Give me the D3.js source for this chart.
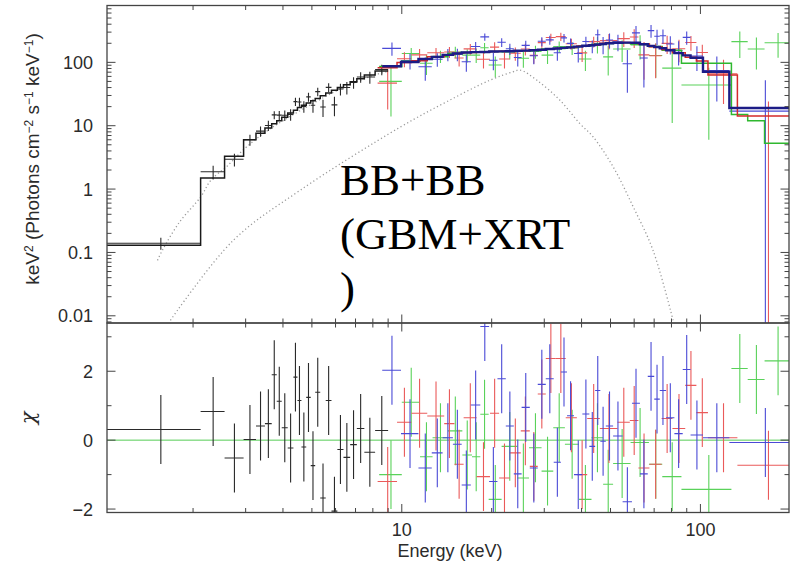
<!DOCTYPE html>
<html><head><meta charset="utf-8">
<script src="https://cdn.jsdelivr.net/npm/d3@7"></script>
<style>body{margin:0;background:#fff;} svg{display:block;}</style>
</head><body>
<svg id="chart" width="795" height="566"></svg>
<script>
// ---------------- DATA ----------------
// Swift/XRT (black)
const xrtEdges = [1.0, 2.12, 2.55, 2.953, 3.249, 3.481, 3.668, 3.813, 3.963, 4.150, 4.336, 4.473, 4.613, 4.786, 4.955, 5.129, 5.332, 5.563, 5.815, 6.085, 6.378, 6.716, 7.071, 7.492, 8.141, 9.0];
const xrtData  = [0.14, 1.88, 2.95, 6.02, 8.22, 10.1, 14.8, 14.7, 14.6, 15.1, 24.0, 23.7, 20.2, 28.5, 21.0, 34.5, 19.7, 40.3, 21.3, 38.0, 40.0, 48.2, 58.7, 58.6, 77.1];
const xrtErr   = [0.03, 0.46, 0.67, 1.2, 1.52, 1.84, 2.14, 2.4, 2.72, 3.16, 3.52, 3.86, 4.2, 4.56, 4.94, 5.4, 5.92, 6.56, 7.26, 8.04, 8.9, 9.9, 11.0, 12.6, 14.6];
const xrtModel = [0.13, 1.50, 3.3, 6.0, 7.6, 9.2, 10.7, 12.0, 13.6, 15.8, 17.6, 19.3, 21.0, 22.8, 24.7, 27.0, 29.6, 32.8, 36.3, 40.2, 44.5, 49.5, 55.0, 63.0, 73.0];
const xrtChi   = [0.31, 0.83, -0.52, 0.02, 0.41, 0.48, 1.9, 1.13, 0.36, -0.23, 1.83, 1.15, -0.2, 1.24, -0.74, 1.39, -1.68, 1.15, -2.06, -0.27, -0.5, -0.13, 0.34, -0.35, 0.28];

// GBM detector (green)
const grnEdges = [8.4, 10.0, 11.51, 12.68, 14.27, 15.95, 17.18, 18.32, 19.54, 21.59, 24.39, 26.68, 29.38, 32.15, 35.17, 39.22, 43.18, 47.23, 51.01, 58.37, 67.24, 74.52, 86.4, 127, 144, 164, 200];
const grnData  = [50, 138, 97, 125, 146, 130, 130, 170, 91, 144, 116, 148, 130, 178, 169, 113, 195, 122, 162, 189, 128, 81, 44, 212, 162, 204];
const grnErr   = [36, 31, 34, 27, 30, 31, 32, 32, 33, 33, 34, 34, 36, 36, 38, 40, 57, 60, 61, 78, 71, 70, 38, 95, 85, 86];
const grnModel = [86, 104, 113, 123, 138, 143, 145, 146, 148, 150, 153, 155, 162, 165, 174, 182, 191, 199, 204, 194, 178, 155, 97, 15, 12, 5.3];
const grnChi   = [-1.0, 1.1, -0.48, 0.07, 0.27, -0.43, -0.48, 0.75, -1.72, -0.18, -1.1, -0.22, -0.9, 0.36, -0.12, -1.72, 0.07, -1.28, -0.68, -0.07, -0.7, -1.06, -1.43, 2.08, 1.76, 2.3];

// GBM detector (red)
const redEdges = [8.3, 9.64, 10.77, 12.17, 13.87, 15.01, 16.11, 17.81, 19.74, 21.18, 22.97, 25.03, 26.83, 28.53, 30.35, 32.78, 35.40, 38.57, 41.77, 46.05, 52.76, 58.02, 62.01, 67.49, 74.14, 80.60, 88.96, 96.95, 106, 133, 205];
const redData  = [47, 114, 131, 142, 146, 117, 163, 112, 174, 113, 139, 162, 129, 205, 247, 255, 197, 141, 212, 220, 237, 251, 131, 127, 199, 164, 206, 143, 66, -12];
const redErr   = [29, 30, 32, 27, 29, 31, 31, 32, 33, 33, 33, 34, 34, 35, 36, 37, 38, 40, 41, 60, 62, 82, 78, 71, 64, 64, 54, 47, 44, 36];
const redModel = [82, 99, 106, 123, 132, 139, 143, 146, 148, 149, 151, 153, 155, 158, 162, 167, 172, 181, 186, 200, 205, 204, 194, 177, 159, 142, 120, 105, 63, 14.2];
const redChi   = [-1.2, 0.52, 0.78, 0.7, 0.48, -0.7, 0.65, -1.06, 0.78, -1.1, -0.37, 0.27, -0.76, 1.34, 2.37, 2.37, 0.65, -1.0, 0.63, 0.34, 0.52, 0.57, -0.81, -0.7, 0.63, 0.34, 1.59, 0.8, 0.07, -0.73];

// GBM detector (blue)
const bluEdges = [8.6, 9.94, 11.37, 12.60, 13.70, 14.83, 15.87, 17.03, 18.32, 19.61, 20.91, 22.30, 23.72, 25.19, 26.83, 28.53, 30.35, 32.27, 34.10, 35.76, 37.74, 40.24, 42.47, 44.41, 46.22, 48.22, 51.01, 54.89, 58.99, 62.73, 66.63, 70.05, 73.09, 76.75, 81.82, 87.25, 92.69, 102, 125, 205];
const bluData  = [166, 107, 85, 112, 133, 134, 102, 178, 252, 108, 208, 164, 119, 185, 127, 215, 226, 142, 243, 199, 138, 213, 180, 273, 193, 225, 211, 95, 292, 117, 317, 258, 263, 195, 152, 248, 126, 74, 17];
const bluErr   = [39, 30, 34, 27, 29, 30, 31, 32, 32, 33, 33, 33, 33, 34, 34, 35, 36, 36, 37, 38, 39, 40, 41, 57, 59, 60, 61, 62, 82, 77, 73, 70, 67, 62, 63, 58, 53, 50, 35];
const bluModel = [87, 101, 113, 122, 131, 138, 143, 145, 146, 148, 149, 150, 152, 153, 155, 158, 162, 165, 169, 172, 177, 183, 187, 191, 195, 200, 204, 205, 204, 193, 182, 175, 167, 155, 140, 129, 118, 71, 19];
const bluChi   = [2.03, 0.19, -0.81, -0.37, 0.07, -0.12, -1.3, 1.02, 3.3, -1.2, 1.78, 0.41, -0.98, 0.95, -0.81, 1.62, 1.78, -0.64, 1.98, 0.71, -1.0, 0.76, -0.18, 1.44, -0.03, 0.41, 0.12, -1.79, 1.07, -0.98, 1.85, 1.19, 1.44, 0.65, 0.19, 2.05, 0.15, 0.07, -0.07];

// Model components (dotted)
const comp1E = [1.52, 1.58, 1.8, 2.12, 2.3, 2.6, 3.0, 3.5, 4.0, 5.0, 6.0, 7.0, 8.0, 9.0];
const comp1F = [0.075, 0.109, 0.3, 0.75, 1.4, 2.3, 4.5, 8, 12, 22, 35, 48, 62, 72];
const comp2E = [1.68, 2.73, 4.57, 9.87, 14.14, 19.76, 23.6, 24.9, 28.3, 33.8, 39.4, 43.7, 51.0, 59.5, 69.3, 81.0];
const comp2F = [0.0085, 0.156, 0.96, 9.47, 23.9, 52.5, 71.0, 75.6, 52.5, 25.4, 10.9, 6.7, 2.25, 0.53, 0.11, 0.0085];

// Axis ticks / labels
const yTopTicks = [0.01, 0.1, 1, 10, 100];
const yTopLabels = ["0.01", "0.1", "1", "10", "100"];
const yResTicks = [-2, 0, 2];
const yResLabels = ["\u22122", "0", "2"];
const xTicks = [10, 100];
const xLabels = ["10", "100"];
const annotation = ["BB+BB", "(GBM+XRT", ")"];

// ---------------- LAYOUT ----------------
const svg = d3.select("#chart");
const L = 107, R = 789, T = 5.5, MID = 323, B = 512.5;
const x = d3.scaleLog().domain([1.03, 198]).range([L, R]);
const yTop = d3.scaleLog().domain([0.0077, 789]).range([MID, T]);
const yRes = d3.scaleLinear().domain([-2.1, 3.4]).range([B, MID]);
const yT = v => v > 0 ? yTop(v) : MID + 60;

const defs = svg.append("defs");
defs.append("clipPath").attr("id", "clipTop").append("rect")
  .attr("x", L).attr("y", T).attr("width", R - L).attr("height", MID - T);
defs.append("clipPath").attr("id", "clipRes").append("rect")
  .attr("x", L).attr("y", MID).attr("width", R - L).attr("height", B - MID);

const sets = [
  {edges: xrtEdges, data: xrtData, err: xrtErr, model: xrtModel, chi: xrtChi, color: "#2a2a2a", mcolor: "#1a1a1a"},
  {edges: grnEdges, data: grnData, err: grnErr, model: grnModel, chi: grnChi, color: "#5ad25a", mcolor: "#2fb82f"},
  {edges: redEdges, data: redData, err: redErr, model: redModel, chi: redChi, color: "#ea5a5a", mcolor: "#d42a2a"},
  {edges: bluEdges, data: bluData, err: bluErr, model: bluModel, chi: bluChi, color: "#4a4ad6", mcolor: "#1c1c86"}
];

const gTop = svg.append("g").attr("clip-path", "url(#clipTop)");
const gRes = svg.append("g").attr("clip-path", "url(#clipRes)");

// zero line in residuals
gRes.append("line").attr("x1", L).attr("x2", R)
  .attr("y1", yRes(0)).attr("y2", yRes(0))
  .attr("stroke", "#55cc55").attr("stroke-width", 1);

// dotted components
const compLine = d3.line().x(d => x(d[0])).y(d => yT(d[1])).curve(d3.curveCatmullRom);
[[comp1E, comp1F], [comp2E, comp2F]].forEach(([E, F]) => {
  gTop.append("path").attr("d", compLine(E.map((e, i) => [e, F[i]])))
    .attr("fill", "none").attr("stroke", "#9a9a9a").attr("stroke-width", 1.3)
    .attr("stroke-dasharray", "1.2,2.6");
});

// data crosses (top) and residual crosses (bottom)
sets.forEach(s => {
  const gd = gTop.append("g").attr("stroke", s.color).attr("stroke-width", 1.1);
  const gr = gRes.append("g").attr("stroke", s.color).attr("stroke-width", 1.1);
  s.data.forEach((v, i) => {
    const lo = s.edges[i], hi = s.edges[i + 1], c = (lo + hi) / 2;
    gd.append("line").attr("x1", x(lo)).attr("x2", x(hi)).attr("y1", yT(v)).attr("y2", yT(v));
    gd.append("line").attr("x1", x(c)).attr("x2", x(c)).attr("y1", yT(v - s.err[i])).attr("y2", yT(v + s.err[i]));
    const ch = s.chi[i];
    gr.append("line").attr("x1", x(lo)).attr("x2", x(hi)).attr("y1", yRes(ch)).attr("y2", yRes(ch));
    gr.append("line").attr("x1", x(c)).attr("x2", x(c)).attr("y1", yRes(ch - 1)).attr("y2", yRes(ch + 1));
  });
});

// model step lines
const stepLine = d3.line().x(d => x(d[0])).y(d => yT(d[1])).curve(d3.curveStepAfter);
sets.forEach((s, k) => {
  const pts = s.model.map((m, i) => [s.edges[i], m]);
  pts.push([s.edges[s.edges.length - 1], s.model[s.model.length - 1]]);
  gTop.append("path").attr("d", stepLine(pts)).attr("fill", "none")
    .attr("stroke", s.mcolor).attr("stroke-width", k === 3 ? 2.4 : 1.5);
});

// ---------------- FRAMES & TICKS ----------------
const frame = svg.append("g").attr("stroke", "#444").attr("fill", "none");
frame.append("rect").attr("x", L).attr("y", T).attr("width", R - L).attr("height", MID - T).attr("stroke-width", 1.3);
frame.append("rect").attr("x", L).attr("y", MID).attr("width", R - L).attr("height", B - MID).attr("stroke-width", 1.3);

const ticks = svg.append("g").attr("stroke", "#444").attr("stroke-width", 1);
const MAJ = 8.5, MIN = 4.5;
const [x0, x1] = x.domain();
const xMinor = [];
[1, 10, 100].forEach(d => { for (let k = 2; k <= 9; k++) { const v = k * d; if (v > x0 && v < x1) xMinor.push(v); } });
function xTickSet(yBase, dir) {
  xMinor.forEach(v => ticks.append("line").attr("x1", x(v)).attr("x2", x(v)).attr("y1", yBase).attr("y2", yBase + dir * MIN));
  xTicks.forEach(v => ticks.append("line").attr("x1", x(v)).attr("x2", x(v)).attr("y1", yBase).attr("y2", yBase + dir * MAJ));
}
xTickSet(T, 1); xTickSet(MID, -1); xTickSet(MID, 1); xTickSet(B, -1);

const [y0, y1] = yTop.domain();
const yMinor = [];
[0.001, 0.01, 0.1, 1, 10, 100].forEach(d => { for (let k = 2; k <= 9; k++) { const v = k * d; if (v > y0 && v < y1) yMinor.push(v); } });
[[L, 1], [R, -1]].forEach(([xb, dir]) => {
  yMinor.forEach(v => ticks.append("line").attr("x1", xb).attr("x2", xb + dir * MIN).attr("y1", yTop(v)).attr("y2", yTop(v)));
  yTopTicks.forEach(v => ticks.append("line").attr("x1", xb).attr("x2", xb + dir * MAJ).attr("y1", yTop(v)).attr("y2", yTop(v)));
  [-1, 1, 3].forEach(v => ticks.append("line").attr("x1", xb).attr("x2", xb + dir * MIN).attr("y1", yRes(v)).attr("y2", yRes(v)));
  yResTicks.forEach(v => ticks.append("line").attr("x1", xb).attr("x2", xb + dir * MAJ).attr("y1", yRes(v)).attr("y2", yRes(v)));
});

// ---------------- TEXT ----------------
const font = "'Liberation Sans', Arial, Helvetica, sans-serif";
const txt = svg.append("g").attr("font-family", font).attr("font-size", 18).attr("fill", "#2b2b2b");
yTopTicks.forEach((v, i) => txt.append("text").attr("x", 93).attr("y", yTop(v)).attr("dy", "0.36em")
  .attr("text-anchor", "end").text(yTopLabels[i]));
yResTicks.forEach((v, i) => txt.append("text").attr("x", 93).attr("y", yRes(v)).attr("dy", "0.36em")
  .attr("text-anchor", "end").text(yResLabels[i]));
xTicks.forEach((v, i) => txt.append("text").attr("x", x(v)).attr("y", 536)
  .attr("text-anchor", "middle").text(xLabels[i]));
txt.append("text").attr("x", 450).attr("y", 557).attr("text-anchor", "middle").text("Energy (keV)");

const yl = txt.append("text").attr("transform", "translate(39,159) rotate(-90)")
  .attr("text-anchor", "middle").attr("font-size", 19);
yl.append("tspan").text("keV");
yl.append("tspan").attr("dy", -6).attr("font-size", 12).text("2");
yl.append("tspan").attr("dy", 6).text(" (Photons cm");
yl.append("tspan").attr("dy", -6).attr("font-size", 12).text("\u22122");
yl.append("tspan").attr("dy", 6).text(" s");
yl.append("tspan").attr("dy", -6).attr("font-size", 12).text("\u22121");
yl.append("tspan").attr("dy", 6).text(" keV");
yl.append("tspan").attr("dy", -6).attr("font-size", 12).text("\u22121");
yl.append("tspan").attr("dy", 6).text(")");

txt.append("text").attr("transform", "translate(35,418) rotate(-90)")
  .attr("text-anchor", "middle").attr("font-size", 21)
  .attr("font-family", "'DejaVu Serif', serif").attr("font-style", "italic").text("\u03c7");

// annotation
const ann = svg.append("g").attr("font-family", "'Liberation Serif', 'Times New Roman', serif")
  .attr("font-size", 45).attr("fill", "#000");
annotation.forEach((s, i) => ann.append("text").attr("x", 340).attr("y", 195 + i * 54).text(s));
</script>
</body></html>
